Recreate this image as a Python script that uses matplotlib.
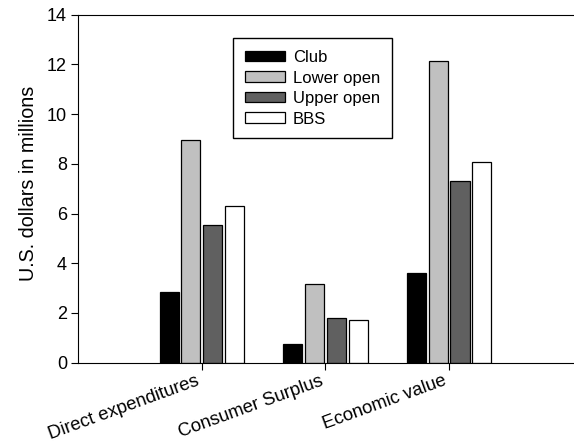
import numpy as np
import matplotlib.pyplot as plt

plt.rcParams['font.family'] = ['Liberation Sans', 'DejaVu Sans']

# data (millions of U.S. dollars)
categories = ['Direct expenditures', 'Consumer Surplus', 'Economic value']
series = ['Club', 'Lower open', 'Upper open', 'BBS']
club = [2.85, 0.73, 3.59]
lower_open = [8.95, 3.15, 12.14]
upper_open = [5.52, 1.78, 7.31]
bbs = [6.31, 1.71, 8.07]
values = [club, lower_open, upper_open, bbs]
colors = ['#000000', '#c0c0c0', '#606060', '#ffffff']

fig = plt.figure(figsize=(5.74, 4.46), dpi=100)
ax = fig.add_axes([0.136, 0.187, 0.862, 0.780])

x = np.arange(1, len(categories) + 1)
step = 0.176
width = 0.155
for i, (name, vals, c) in enumerate(zip(series, values, colors)):
    ax.bar(x + (i - 1.5) * step, vals, width, color=c, edgecolor='black',
           linewidth=0.9, label=name)

ax.set_xlim(0, 4)
ax.set_ylim(0, 14)
ax.set_yticks(range(0, 15, 2))
ax.set_xticks(x)
ax.set_xticklabels(categories, rotation=20, ha='right', fontsize=13.3)
ax.tick_params(axis='y', labelsize=13, direction='out', length=5, pad=3)
ax.tick_params(axis='x', direction='out', length=5, pad=2)
ax.set_ylabel('U.S. dollars in millions', fontsize=14.2, labelpad=6, y=0.514)
ax.spines['right'].set_visible(False)

leg = ax.legend(loc='upper left', bbox_to_anchor=(0.313, 0.932), borderaxespad=0,
                fontsize=12, fancybox=False, framealpha=1, edgecolor='black',
                handlelength=2.4, handleheight=0.6, labelspacing=0.33,
                borderpad=0.7, handletextpad=0.5)
leg.get_frame().set_linewidth(1.0)

fig.savefig('out.png', dpi=100)
